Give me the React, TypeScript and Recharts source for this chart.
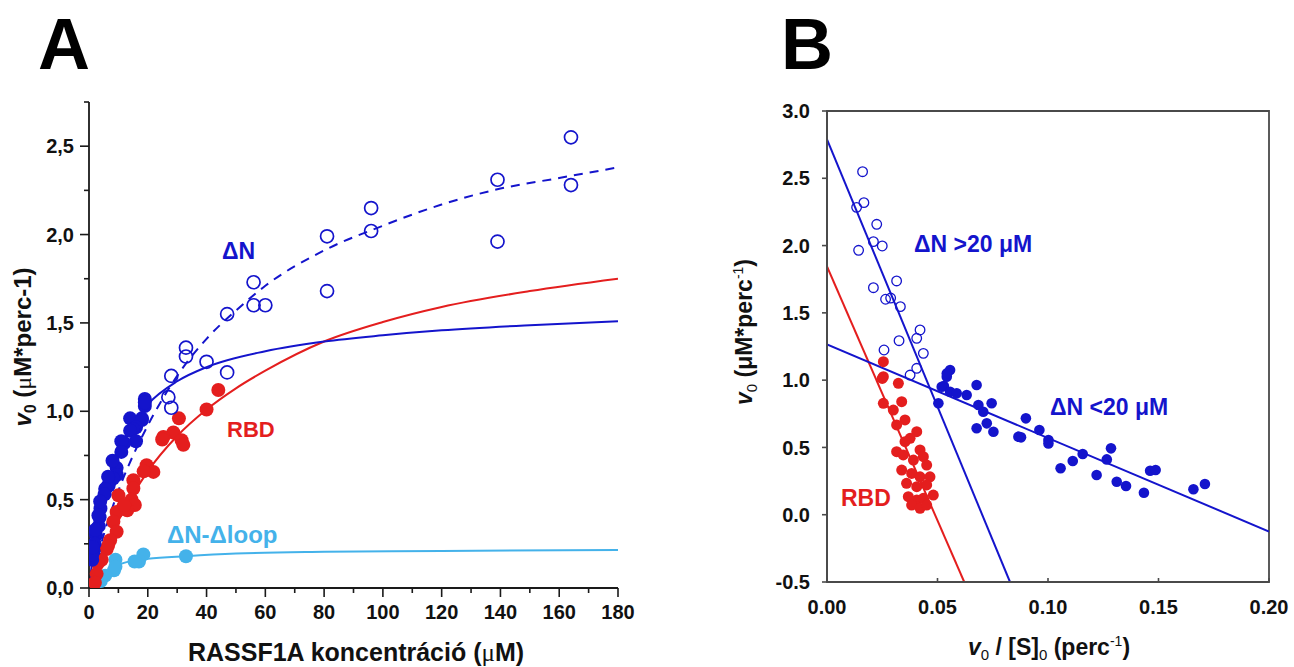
import React from 'react';
import { ComposedChart, Line, Scatter, XAxis, YAxis, ReferenceArea } from 'recharts';

// ---------- Panel A data (x = RASSF1A µM, y = v0) ----------
const aXTicks = [0, 10, 20, 30, 40, 50, 60, 70, 80, 90, 100, 110, 120, 130, 140, 150, 160, 170, 180];
const aYTicks = [0, 0.25, 0.5, 0.75, 1, 1.25, 1.5, 1.75, 2, 2.25, 2.5, 2.75];

const aDnOpen: [number, number][] = [
  [164, 2.55], [164, 2.28], [139, 2.31], [139, 1.96], [96, 2.15], [96, 2.02], [81, 1.99], [81, 1.68],
  [56, 1.73], [56, 1.60], [60, 1.60], [47, 1.55], [47, 1.22], [40, 1.28], [33, 1.36], [33, 1.31],
  [28, 1.20], [27, 1.08], [28, 1.02],
];
const aDnFilled: [number, number][] = [
  [19, 1.07], [19, 1.03], [18, 0.96], [14, 0.96], [19, 1.05], [18, 0.95], [16, 0.91], [15, 0.9],
  [14, 0.89], [16, 0.83], [12, 0.82], [11, 0.83], [11, 0.77], [9.4, 0.68], [9.5, 0.64], [8.2, 0.62],
  [6.7, 0.58], [8, 0.72], [6.5, 0.58], [6.5, 0.63], [5.5, 0.56], [5.3, 0.53], [3.9, 0.45], [3.6, 0.4],
  [3.3, 0.35], [2.4, 0.3], [3.8, 0.49], [3.2, 0.41], [1.9, 0.25], [1.6, 0.21], [1.1, 0.16], [2.2, 0.33],
  [1.1, 0.19], [1.3, 0.23],
];
const aRbd: [number, number][] = [
  [44, 1.12], [40, 1.01], [30.6, 0.96], [28.7, 0.88], [25.3, 0.855], [24.9, 0.84], [31.5, 0.836], [32.1, 0.81],
  [19.6, 0.695], [21.9, 0.657], [18.6, 0.66], [15.1, 0.61], [15.1, 0.563], [14.5, 0.5], [15.6, 0.47],
  [10, 0.525], [11.7, 0.46], [9.4, 0.43], [8.3, 0.375], [9.4, 0.318], [7.2, 0.27], [6, 0.22], [6.5, 0.24],
  [4.3, 0.16], [3, 0.14], [2.6, 0.08], [2, 0.03], [13, 0.44], [12, 0.47],
];
const aLoop: [number, number][] = [
  [33, 0.18], [18.5, 0.19], [17, 0.15], [15.5, 0.15], [9, 0.16], [8.5, 0.1], [9, 0.12], [5.5, 0.07], [4, 0.04],
];

const aDnFitX = [0, 1, 2, 3, 5, 7, 10, 15, 20, 30, 40, 60, 80, 100, 120, 150, 180];
const aDnFitY = [0, 0.136, 0.25, 0.348, 0.506, 0.629, 0.769, 0.93, 1.039, 1.17, 1.25, 1.34, 1.395, 1.43, 1.458, 1.487, 1.509];
const aDnHighFitX = [0, 2, 5, 10, 15, 20, 30, 40, 50, 60, 80, 100, 120, 140, 160, 180];
const aDnHighFitY = [0, 0.12, 0.3, 0.55, 0.75, 0.92, 1.2, 1.41, 1.57, 1.71, 1.91, 2.05, 2.17, 2.26, 2.32, 2.38];
const aRbdFitX = [2, 5, 10, 15, 20, 30, 40, 50, 60, 80, 100, 120, 150, 180];
const aRbdFitY = [0.02, 0.2, 0.38, 0.53, 0.66, 0.86, 1.01, 1.13, 1.23, 1.395, 1.505, 1.59, 1.68, 1.75];
const aLoopFitX = [3, 5, 8, 10, 15, 20, 33, 50, 80, 120, 180];
const aLoopFitY = [0, 0.06, 0.11, 0.13, 0.155, 0.165, 0.18, 0.195, 0.205, 0.21, 0.215];

// ---------- Panel B data (x = v0/[S]0, y = v0) ----------
const bXTicks = [0, 0.05, 0.1, 0.15, 0.2];
const bYTicks = [-0.5, 0, 0.5, 1, 1.5, 2, 2.5, 3];

const bDnOpen: [number, number][] = [
  [0.0161, 2.549], [0.0167, 2.319], [0.0134, 2.284], [0.0225, 2.158], [0.021, 2.029], [0.025, 1.997],
  [0.0143, 1.965], [0.0315, 1.737], [0.021, 1.687], [0.0265, 1.601], [0.0288, 1.61], [0.0332, 1.546],
  [0.0421, 1.373], [0.0406, 1.311], [0.0326, 1.293], [0.0436, 1.199], [0.0258, 1.224], [0.0406, 1.088],
  [0.0376, 1.038],
];
const bDnFilled: [number, number][] = [
  [0.0557, 1.075], [0.0542, 1.026], [0.0529, 0.956], [0.0677, 0.964], [0.0542, 1.05], [0.0519, 0.951],
  [0.0557, 0.914], [0.0587, 0.902], [0.0632, 0.89], [0.0504, 0.828], [0.0685, 0.815], [0.0745, 0.828],
  [0.0707, 0.765], [0.0723, 0.679], [0.0677, 0.642], [0.0753, 0.617], [0.0866, 0.58], [0.09, 0.716],
  [0.0878, 0.575], [0.0961, 0.629], [0.1002, 0.555], [0.1002, 0.53], [0.1157, 0.451], [0.1112, 0.399],
  [0.1057, 0.345], [0.122, 0.295], [0.1285, 0.493], [0.1266, 0.411], [0.1311, 0.245], [0.1353, 0.213],
  [0.1434, 0.163], [0.1462, 0.327], [0.1487, 0.332], [0.1658, 0.189], [0.171, 0.228],
];
const bRbd: [number, number][] = [
  [0.0255, 1.137], [0.0255, 1.026], [0.0323, 0.976], [0.025, 1.013], [0.0255, 0.828], [0.03, 0.778],
  [0.0338, 0.84], [0.0353, 0.704], [0.0315, 0.667], [0.0406, 0.617], [0.0376, 0.568], [0.0353, 0.543],
  [0.0421, 0.481], [0.0315, 0.468], [0.0345, 0.444], [0.0391, 0.406], [0.0436, 0.431], [0.0451, 0.369],
  [0.0338, 0.332], [0.0383, 0.307], [0.0421, 0.282], [0.0466, 0.282], [0.036, 0.233], [0.0406, 0.208],
  [0.0451, 0.221], [0.0481, 0.146], [0.0368, 0.134], [0.0406, 0.109], [0.0436, 0.122], [0.0383, 0.072],
  [0.0421, 0.048], [0.0451, 0.072],
];
const bDnHighFit: [number, number][] = [[0, 2.79], [0.0828, -0.5]];
const bDnLowFit: [number, number][] = [[0, 1.265], [0.2, -0.125]];
const bRbdFit: [number, number][] = [[0, 1.845], [0.0621, -0.5]];

// ---------- helpers ----------
const toPts = (arr: [number, number][]) => arr.map(([x, y]) => ({ x, y }));
const zip = (xs: number[], ys: number[]) => xs.map((x, i) => ({ x, y: ys[i] }));

const BLUE = '#1414cc';
const RED = '#e41e1e';
const LBLUE = '#44b2ea';
const FONT = '"Liberation Sans", Arial, Helvetica, sans-serif';
const SERIF = '"Liberation Serif", "DejaVu Serif", serif';
const AXIS_A = '#1a1a1a';
const AXIS_B = '#4a4a4a';

const isMult = (v: number, step: number) => Math.abs(v / step - Math.round(v / step)) < 1e-6;

const TickAY = (props: any) => {
  const { x, y, payload } = props;
  const v = Number(payload.value);
  const major = isMult(v, 0.5);
  return (
    <g>
      <line x1={x} x2={x - (major ? 9 : 5)} y1={y} y2={y} stroke={AXIS_A} strokeWidth={1.6} />
      {major && (
        <text x={x - 15} y={y} dy="0.36em" textAnchor="end" fontSize={20} fontWeight="bold" fill="#111" fontFamily={FONT}>
          {v.toFixed(1).replace('.', ',')}
        </text>
      )}
    </g>
  );
};

const TickAX = (props: any) => {
  const { x, y, payload } = props;
  const v = Number(payload.value);
  const major = isMult(v, 20);
  return (
    <g>
      <line x1={x} x2={x} y1={y} y2={y + (major ? 9 : 5)} stroke={AXIS_A} strokeWidth={1.6} />
      {major && (
        <text x={x} y={y + 17} dy="0.72em" textAnchor="middle" fontSize={20} fontWeight="bold" fill="#111" fontFamily={FONT}>
          {String(v)}
        </text>
      )}
    </g>
  );
};

const TickBY = (props: any) => {
  const { x, y, payload } = props;
  const v = Number(payload.value);
  return (
    <g>
      <line x1={x} x2={x - 5} y1={y} y2={y} stroke={AXIS_B} strokeWidth={1.6} />
      <text x={x - 17} y={y} dy="0.36em" textAnchor="end" fontSize={20} fontWeight="bold" fill="#111" fontFamily={FONT}>
        {v.toFixed(1)}
      </text>
    </g>
  );
};

const TickBX = (props: any) => {
  const { x, y, payload } = props;
  const v = Number(payload.value);
  return (
    <g>
      <line x1={x} x2={x} y1={y} y2={y - 4} stroke={AXIS_B} strokeWidth={1.6} />
      <text x={x} y={y + 18} dy="0.72em" textAnchor="middle" fontSize={20} fontWeight="bold" fill="#111" fontFamily={FONT}>
        {v.toFixed(2)}
      </text>
    </g>
  );
};

const dot = (r: number, color: string, hollow = false, sw = 1.6) => (p: any) => {
  if (p.cx == null || p.cy == null) return <g />;
  return hollow ? (
    <circle cx={p.cx} cy={p.cy} r={r} fill="none" stroke={color} strokeWidth={sw} />
  ) : (
    <circle cx={p.cx} cy={p.cy} r={r} fill={color} stroke="none" />
  );
};

const PanelA = () => (
  <ComposedChart width={640} height={667} margin={{ top: 102, right: 22, bottom: 49, left: 29 }}>
    <XAxis
      dataKey="x"
      type="number"
      domain={[0, 180]}
      ticks={aXTicks}
      interval={0}
      allowDataOverflow
      height={30}
      tickSize={0}
      tickMargin={0}
      tickLine={false}
      axisLine={{ stroke: AXIS_A, strokeWidth: 1.8 }}
      tick={<TickAX />}
    />
    <YAxis
      type="number"
      domain={[0, 2.75]}
      ticks={aYTicks}
      interval={0}
      allowDataOverflow
      width={60}
      tickSize={0}
      tickMargin={0}
      tickLine={false}
      axisLine={{ stroke: AXIS_A, strokeWidth: 1.8 }}
      tick={<TickAY />}
    />
    <Line data={zip(aLoopFitX, aLoopFitY)} dataKey="y" type="monotone" stroke={LBLUE} strokeWidth={2} dot={false} isAnimationActive={false} />
    <Line data={zip(aRbdFitX, aRbdFitY)} dataKey="y" type="monotone" stroke={RED} strokeWidth={2} dot={false} isAnimationActive={false} />
    <Line data={zip(aDnFitX, aDnFitY)} dataKey="y" type="monotone" stroke={BLUE} strokeWidth={2} dot={false} isAnimationActive={false} />
    <Line data={zip(aDnHighFitX, aDnHighFitY)} dataKey="y" type="monotone" stroke={BLUE} strokeWidth={2} strokeDasharray="9 7" dot={false} isAnimationActive={false} />
    <Scatter data={toPts(aLoop)} dataKey="y" shape={dot(7, LBLUE)} isAnimationActive={false} />
    <Scatter data={toPts(aRbd)} dataKey="y" shape={dot(7, RED)} isAnimationActive={false} />
    <Scatter data={toPts(aDnFilled)} dataKey="y" shape={dot(7, BLUE)} isAnimationActive={false} />
    <Scatter data={toPts(aDnOpen)} dataKey="y" shape={dot(6.5, BLUE, true, 1.7)} isAnimationActive={false} />
  </ComposedChart>
);

const PanelB = () => (
  <ComposedChart width={654} height={667} margin={{ top: 111, right: 25, bottom: 55, left: 127 }}>
    <XAxis
      dataKey="x"
      type="number"
      domain={[0, 0.2]}
      ticks={bXTicks}
      interval={0}
      allowDataOverflow
      height={30}
      tickSize={0}
      tickMargin={0}
      tickLine={false}
      axisLine={{ stroke: AXIS_B, strokeWidth: 1.8 }}
      tick={<TickBX />}
    />
    <YAxis
      type="number"
      domain={[-0.5, 3]}
      ticks={bYTicks}
      interval={0}
      allowDataOverflow
      width={60}
      tickSize={0}
      tickMargin={0}
      tickLine={false}
      axisLine={{ stroke: AXIS_B, strokeWidth: 1.8 }}
      tick={<TickBY />}
    />
    <ReferenceArea x1={0} x2={0.2} y1={-0.5} y2={3} fill="none" stroke={AXIS_B} strokeWidth={1.8} ifOverflow="visible" />
    <Line data={toPts(bRbdFit)} dataKey="y" type="linear" stroke={RED} strokeWidth={2} dot={false} isAnimationActive={false} />
    <Line data={toPts(bDnHighFit)} dataKey="y" type="linear" stroke={BLUE} strokeWidth={2} dot={false} isAnimationActive={false} />
    <Line data={toPts(bDnLowFit)} dataKey="y" type="linear" stroke={BLUE} strokeWidth={2} dot={false} isAnimationActive={false} />
    <Scatter data={toPts(bRbd)} dataKey="y" shape={dot(5.5, RED)} isAnimationActive={false} />
    <Scatter data={toPts(bDnFilled)} dataKey="y" shape={dot(5.3, BLUE)} isAnimationActive={false} />
    <Scatter data={toPts(bDnOpen)} dataKey="y" shape={dot(4.8, BLUE, true, 1.3)} isAnimationActive={false} />
  </ComposedChart>
);

const Overlay = () => (
  <svg width={1294} height={667} style={{ position: 'absolute', left: 0, top: 0, pointerEvents: 'none' }} fontFamily={FONT}>
    {/* panel letters */}
    <text x={38} y={69} fontSize={72} fontWeight="bold" fill="#000">A</text>
    <text x={781} y={69} fontSize={72} fontWeight="bold" fill="#000">B</text>

    {/* panel A axis titles */}
    <text x={31} y={347} transform="rotate(-90, 31, 347)" textAnchor="middle" fontSize={24} fontWeight="bold" fill="#111">
      <tspan fontStyle="italic">v</tspan>
      <tspan fontSize={16} dy={5}>0</tspan>
      <tspan dy={-5}> (</tspan>
      <tspan fontFamily={SERIF} fontWeight="normal">μ</tspan>
      <tspan>M*perc-1)</tspan>
    </text>
    <text x={356} y={661} textAnchor="middle" fontSize={25} fontWeight="bold" fill="#111">
      <tspan>RASSF1A koncentráció (</tspan>
      <tspan fontFamily={SERIF} fontWeight="normal">μ</tspan>
      <tspan>M)</tspan>
    </text>

    {/* panel A series labels */}
    <text x={222} y={259} fontSize={23} fontWeight="bold" fill={BLUE}>ΔN</text>
    <text x={227} y={437} fontSize={22} fontWeight="bold" fill={RED}>RBD</text>
    <text x={167} y={543} fontSize={24} fontWeight="bold" fill={LBLUE}>ΔN-Δloop</text>

    {/* panel B axis titles */}
    <text x={752} y={332} transform="rotate(-90, 752, 332)" textAnchor="middle" fontSize={23} fontWeight="bold" fill="#111">
      <tspan fontStyle="italic">v</tspan>
      <tspan fontSize={15} dy={5} fontWeight="normal">0</tspan>
      <tspan dy={-5}> (μM*perc</tspan>
      <tspan fontSize={14} dy={-9} fontWeight="normal">-1</tspan>
      <tspan dy={9}>)</tspan>
    </text>
    <text x={1049} y={655} textAnchor="middle" fontSize={23} fontWeight="bold" fill="#111">
      <tspan fontStyle="italic">v</tspan>
      <tspan fontSize={15} dy={5} fontWeight="normal">0</tspan>
      <tspan dy={-5}> / [S]</tspan>
      <tspan fontSize={15} dy={5} fontWeight="normal">0</tspan>
      <tspan dy={-5}> (perc</tspan>
      <tspan fontSize={14} dy={-9} fontWeight="normal">-1</tspan>
      <tspan dy={9}>)</tspan>
    </text>

    {/* panel B series labels */}
    <text x={914} y={252} fontSize={23} fontWeight="bold" fill={BLUE}>ΔN &gt;20 μM</text>
    <text x={1050} y={415} fontSize={23} fontWeight="bold" fill={BLUE}>ΔN &lt;20 μM</text>
    <text x={841} y={506} fontSize={23} fontWeight="bold" fill={RED}>RBD</text>
  </svg>
);

export default function App() {
  return (
    <div style={{ position: 'absolute', left: 0, top: 0, width: 1294, height: 667, background: '#fff', overflow: 'hidden', fontFamily: FONT }}>
      <div style={{ position: 'absolute', left: 0, top: 0 }}>
        <PanelA />
      </div>
      <div style={{ position: 'absolute', left: 640, top: 0 }}>
        <PanelB />
      </div>
      <Overlay />
    </div>
  );
}
